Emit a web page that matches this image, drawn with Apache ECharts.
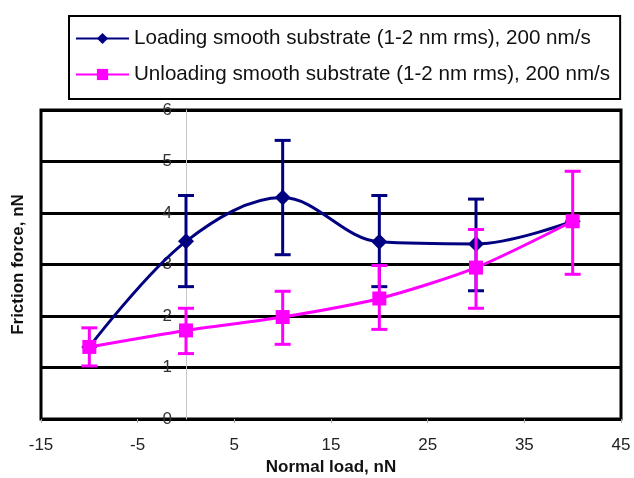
<!DOCTYPE html>
<html>
<head>
<meta charset="utf-8">
<script src="https://cdn.jsdelivr.net/npm/echarts@6/dist/echarts.min.js"></script>
<style>
  html, body { margin: 0; padding: 0; background: #fff; }
  #chart { width: 634px; height: 478px; }
</style>
</head>
<body>
<div id="chart"></div>
<script>
// data
var loads = [-10, 0, 10, 20, 30, 40];
var loading = [1.4, 3.45, 4.3, 3.44, 3.4, 3.84];
var loadingLow = [null, 2.57, 3.19, 2.57, 2.49, null];
var loadingHigh = [null, 4.34, 5.41, 4.34, 4.27, null];
var unloading = [1.4, 1.72, 1.98, 2.34, 2.94, 3.84];
var unloadingLow = [1.03, 1.27, 1.45, 1.74, 2.15, 2.81];
var unloadingHigh = [1.77, 2.15, 2.48, 2.98, 3.68, 4.81];
var xTicks = [-15, -5, 5, 15, 25, 35, 45];
var yTicks = [0, 1, 2, 3, 4, 5, 6];

var nameLoad = 'Loading smooth substrate (1-2 nm rms), 200 nm/s';
var nameUnload = 'Unloading smooth substrate (1-2 nm rms), 200 nm/s';

function pairs(xs, ys) {
    return xs.map(function (x, i) { return [x, ys[i]]; });
}
function bars(xs, lo, hi) {
    var out = [];
    xs.forEach(function (x, i) {
        if (lo[i] != null) out.push([x, lo[i], hi[i]]);
    });
    return out;
}

// error bars drawn through the axes
function errorBar(color) {
    return function (params, api) {
        var low = api.coord([api.value(0), api.value(1)]);
        var high = api.coord([api.value(0), api.value(2)]);
        var w = 8;
        var style = { stroke: color, lineWidth: 3 };
        return {
            type: 'group',
            children: [
                { type: 'line', shape: { x1: low[0], y1: low[1], x2: high[0], y2: high[1] }, style: style },
                { type: 'line', shape: { x1: low[0] - w, y1: low[1], x2: low[0] + w, y2: low[1] }, style: style },
                { type: 'line', shape: { x1: high[0] - w, y1: high[1], x2: high[0] + w, y2: high[1] }, style: style }
            ]
        };
    };
}

var myChart = echarts.init(document.getElementById('chart'));

var option = {
    animation: false,
    textStyle: { fontFamily: 'Liberation Sans, Arial, sans-serif' },
    legend: {
        orient: 'vertical',
        left: 69,
        top: 16,
        padding: [12, 10, 14, 6],
        itemGap: 15,
        itemWidth: 53,
        itemHeight: 14,
        borderColor: '#000',
        borderWidth: 2,
        backgroundColor: '#fff',
        textStyle: { fontSize: 20.6, color: '#111' },
        data: [nameLoad, nameUnload]
    },
    grid: {
        left: 41,
        right: 13,
        top: 110,
        bottom: 59,
        outerBoundsMode: 'none',
        containLabel: false,
        show: true,
        borderColor: '#000',
        borderWidth: 3
    },
    xAxis: {
        type: 'value',
        min: xTicks[0],
        max: xTicks[xTicks.length - 1],
        interval: 10,
        name: 'Normal load, nN',
        nameLocation: 'middle',
        nameGap: 40,
        nameTextStyle: { fontSize: 17, fontWeight: 'bold', color: '#111' },
        axisLine: { show: false },
        axisTick: { show: true, length: 4, lineStyle: { color: '#aaa' } },
        axisLabel: { fontSize: 17, color: '#222', margin: 18 },
        splitLine: { show: false }
    },
    yAxis: {
        type: 'value',
        min: yTicks[0],
        max: yTicks[yTicks.length - 1],
        interval: 1,
        name: 'Friction force, nN',
        nameLocation: 'middle',
        nameGap: 14,
        nameRotate: 90,
        nameTextStyle: { fontSize: 17, fontWeight: 'bold', color: '#111' },
        axisLine: { show: true, onZero: true, lineStyle: { color: '#c8c8c8', width: 1 } },
        axisTick: { show: false },
        // labels sit next to the x = 0 line, inside the frame
        axisLabel: { fontSize: 17, color: '#333', margin: -131 },
        splitLine: { show: true, lineStyle: { color: '#000', width: 3 } }
    },
    series: [
        {
            name: nameLoad,
            type: 'line',
            data: pairs(loads, loading),
            smooth: 0.35,
            symbol: 'diamond',
            symbolSize: 16,
            lineStyle: { color: '#000080', width: 3 },
            itemStyle: { color: '#000080' },
            z: 3
        },
        {
            type: 'custom',
            renderItem: errorBar('#000080'),
            data: bars(loads, loadingLow, loadingHigh),
            z: 2
        },
        {
            name: nameUnload,
            type: 'line',
            data: pairs(loads, unloading),
            smooth: 0.25,
            symbol: 'rect',
            symbolSize: 14,
            lineStyle: { color: '#ff00ff', width: 3 },
            itemStyle: { color: '#ff00ff' },
            z: 5
        },
        {
            type: 'custom',
            renderItem: errorBar('#ff00ff'),
            data: bars(loads, unloadingLow, unloadingHigh),
            z: 4
        }
    ]
};

myChart.setOption(option);
</script>
</body>
</html>
